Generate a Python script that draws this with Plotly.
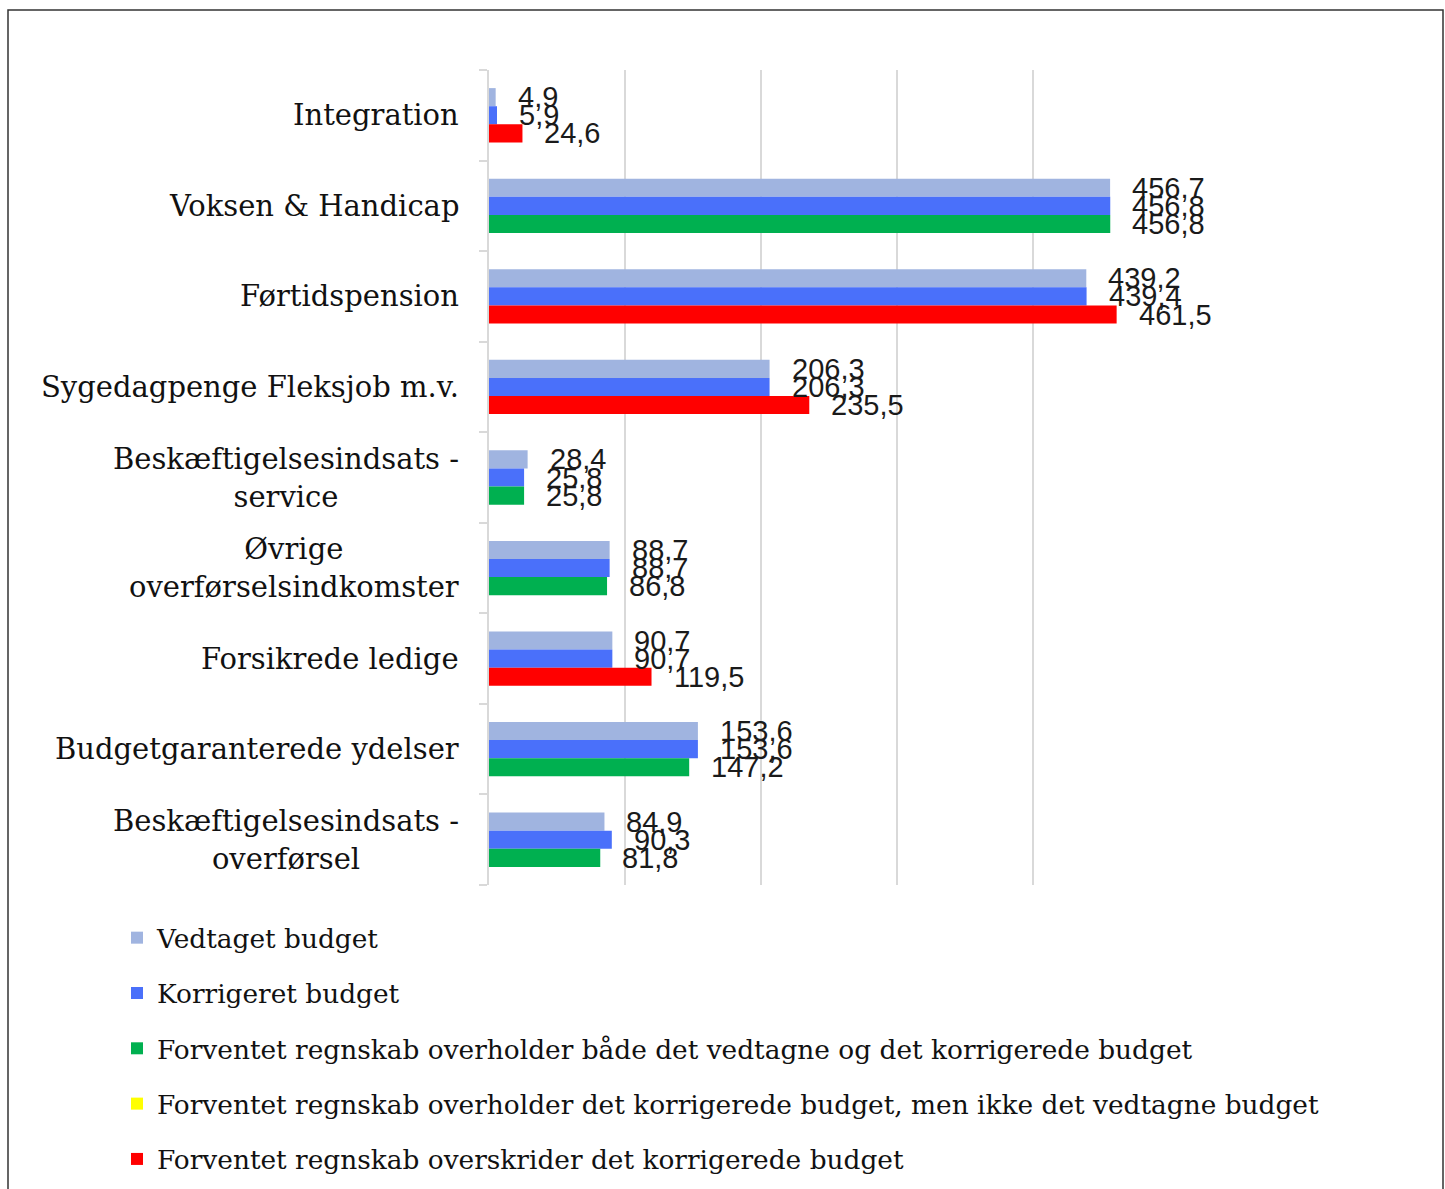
import plotly.graph_objects as go

categories = [
    "Integration",
    "Voksen & Handicap",
    "Førtidspension",
    "Sygedagpenge Fleksjob m.v.",
    "Beskæftigelsesindsats -<br>service",
    "Øvrige<br>overførselsindkomster",
    "Forsikrede ledige",
    "Budgetgaranterede ydelser",
    "Beskæftigelsesindsats -<br>overførsel",
]
vedtaget = [4.9, 456.7, 439.2, 206.3, 28.4, 88.7, 90.7, 153.6, 84.9]
korrigeret = [5.9, 456.8, 439.4, 206.3, 25.8, 88.7, 90.7, 153.6, 90.3]
forventet = [24.6, 456.8, 461.5, 235.5, 25.8, 86.8, 119.5, 147.2, 81.8]
status = ["red", "green", "red", "red", "green", "green", "red", "green", "green"]

series_names = [
    "Vedtaget budget",
    "Korrigeret budget",
    "Forventet regnskab overholder både det vedtagne og det korrigerede budget",
    "Forventet regnskab overholder det korrigerede budget, men ikke det vedtagne budget",
    "Forventet regnskab overskrider det korrigerede budget",
]
colors = {"vedt": "#a0b4e0", "korr": "#4a70fa", "green": "#00b050", "yellow": "#ffff00", "red": "#ff0000"}

ypos = list(range(len(categories)))
W = 0.2
green_vals = [v if s == "green" else None for v, s in zip(forventet, status)]
yellow_vals = [v if s == "yellow" else None for v, s in zip(forventet, status)]
red_vals = [v if s == "red" else None for v, s in zip(forventet, status)]

fig = go.Figure()
specs = [
    (series_names[0], vedtaget, colors["vedt"], -0.3),
    (series_names[1], korrigeret, colors["korr"], -0.1),
    (series_names[2], green_vals, colors["green"], 0.1),
    (series_names[3], yellow_vals, colors["yellow"], 0.1),
    (series_names[4], red_vals, colors["red"], 0.1),
]
for i, (name, vals, col, off) in enumerate(specs):
    fig.add_trace(go.Bar(
        name=name, x=vals, y=ypos, orientation="h",
        marker=dict(color=col, line=dict(width=0)),
        offset=off, width=W, legendgroup=f"g{i}",
    ))

annotations = []
label_font = dict(family="Liberation Sans", size=29, color="#1a1a1a")
for vals, off in [(vedtaget, -0.3), (korrigeret, -0.1), (forventet, 0.1)]:
    for yi, v in zip(ypos, vals):
        annotations.append(dict(
            x=v, y=yi + off + W / 2, xref="x", yref="y",
            text=f"{v:.1f}".replace(".", ","), showarrow=False,
            xanchor="left", yanchor="middle", xshift=20, font=label_font,
        ))
for yi, cat in zip(ypos, categories):
    annotations.append(dict(
        x=0, y=yi, xref="paper", yref="y", text=cat, showarrow=False,
        xanchor="right", yanchor="middle", align="center", xshift=-28,
        font=dict(family="DejaVu Serif", size=29, color="#111111"),
    ))

FW, FH = 1445, 1189
L, T = 489, 70
PW, PH = 680, 815
fig.update_layout(
    width=FW, height=FH,
    margin=dict(l=L, r=FW - L - PW, t=T, b=FH - T - PH, autoexpand=False),
    paper_bgcolor="white", plot_bgcolor="white",
    barmode="overlay",
    showlegend=True,
    legend=dict(
        xref="container", yref="container", x=117 / FW, y=1 - 914 / FH,
        xanchor="left", yanchor="top",
        font=dict(family="DejaVu Serif", size=26.4, color="#111111"),
        tracegroupgap=18, traceorder="grouped", bgcolor="rgba(0,0,0,0)",
    ),
    xaxis=dict(range=[0, 500], dtick=100, tick0=0, showticklabels=False,
               showgrid=True, gridcolor="#d9d9d9", gridwidth=2, zeroline=False,
               showline=False, ticks=""),
    yaxis=dict(range=[8.5, -0.5], showticklabels=False, showgrid=False,
               zeroline=False, showline=True, linecolor="#d9d9d9", linewidth=2,
               ticks="", tickmode="array", tickvals=ypos,
               minor=dict(tickmode="array",
                          tickvals=[i - 0.5 for i in range(len(categories) + 1)],
                          ticks="outside", ticklen=8, tickcolor="#d9d9d9",
                          tickwidth=2, showgrid=False)),
    annotations=annotations,
    shapes=[dict(type="rect", xref="paper", yref="paper",
                 x0=(8 - L) / PW, x1=(1443 - L) / PW,
                 y0=(T + PH - 1210) / PH, y1=(T + PH - 10) / PH,
                 line=dict(color="#333333", width=1.5), fillcolor="rgba(0,0,0,0)",
                 layer="below")],
)
fig.write_html(
    "out.html",
    config={"displayModeBar": False},
    post_script="document.body.style.margin='0';document.body.style.overflow='hidden';",
)
